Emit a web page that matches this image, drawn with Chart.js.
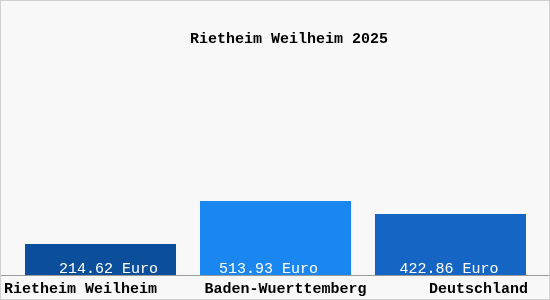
<!DOCTYPE html>
<html>
<head>
<meta charset="utf-8">
<script src="https://cdn.jsdelivr.net/npm/chart.js@4"></script>
<style>
  html, body { margin: 0; padding: 0; background: #f8f8f8; }
  canvas { display: block; }
</style>
</head>
<body>
<canvas id="chart" width="550" height="300"></canvas>
<script>
// Data
const places = ["Rietheim Weilheim", "Baden-Wuerttemberg", "Deutschland"];
const amounts = [214.62, 513.93, 422.86];
const barColors = ["#0b4f9c", "#1a87f0", "#1565c4"];
const unit = "Euro";
const chartTitle = "Rietheim Weilheim 2025";

const FONT = "'Liberation Mono', 'DejaVu Sans Mono', monospace";
// small horizontal nudges of the value labels, as in the original
const valueShift = [8, -7, -1.5];

// background, title, axis line, value labels and category labels
const decorations = {
  id: "decorations",
  beforeDraw(chart) {
    const c = chart.ctx;
    c.save();
    c.fillStyle = "#f8f8f8";
    c.fillRect(0, 0, chart.width, chart.height);
    c.restore();
  },
  afterDraw(chart) {
    const c = chart.ctx;
    const area = chart.chartArea;
    const bars = chart.getDatasetMeta(0).data;
    c.save();

    // title
    c.font = "bold 15px " + FONT;
    c.fillStyle = "#000000";
    c.textAlign = "center";
    c.textBaseline = "alphabetic";
    c.fillText(chartTitle, 289, 43);

    // axis line across full width
    c.strokeStyle = "#9a9a9a";
    c.lineWidth = 1;
    c.beginPath();
    c.moveTo(0, area.bottom + 0.5);
    c.lineTo(chart.width, area.bottom + 0.5);
    c.stroke();

    // frame
    c.strokeStyle = "#d0d0d0";
    c.strokeRect(0.5, 0.5, chart.width - 1, chart.height - 1);

    // value labels inside bars
    c.font = "15px " + FONT;
    c.fillStyle = "#ffffff";
    c.textAlign = "center";
    bars.forEach((bar, i) => {
      c.fillText(amounts[i].toFixed(2) + " " + unit, bar.x + valueShift[i], area.bottom - 2);
    });

    // category labels
    c.font = "bold 15px " + FONT;
    c.fillStyle = "#000000";
    places.forEach((p, i) => {
      let x = bars[i].x + 10;
      if (i === 0) { c.textAlign = "left"; x = 4; }
      else if (i === places.length - 1) { c.textAlign = "right"; x = chart.width - 22; }
      else c.textAlign = "center";
      c.fillText(p, x, area.bottom + 18);
    });
    c.restore();
  }
};

new Chart(document.getElementById("chart"), {
  type: "bar",
  data: {
    labels: places,
    datasets: [{
      data: amounts,
      backgroundColor: barColors,
      borderWidth: 0,
      barPercentage: 0.863,
      categoryPercentage: 1
    }]
  },
  options: {
    responsive: false,
    animation: false,
    devicePixelRatio: 1,
    layout: { padding: { left: 13, right: 12, bottom: 25, top: 131 } },
    scales: {
      x: { display: false },
      y: { display: false, min: 0, max: 1000 }
    },
    plugins: {
      legend: { display: false },
      tooltip: { enabled: false },
      title: { display: false }
    }
  },
  plugins: [decorations]
});
</script>
</body>
</html>
